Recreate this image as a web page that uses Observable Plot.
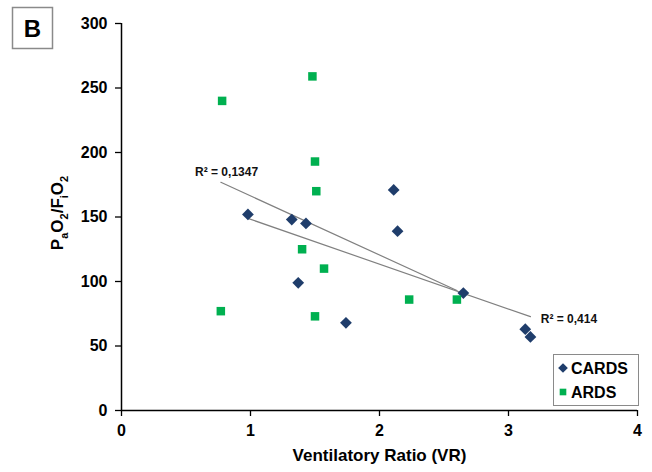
<!DOCTYPE html>
<html>
<head>
<meta charset="utf-8">
<script src="https://cdn.jsdelivr.net/npm/d3@7"></script>
<script src="https://cdn.jsdelivr.net/npm/@observablehq/plot@0.6"></script>
<style>
  html, body { margin: 0; padding: 0; background: #fff; }
  #chart { position: relative; width: 652px; height: 472px; }
</style>
</head>
<body>
<div id="chart"></div>
<script>
// Data
const cardsVR = [0.98, 1.32, 1.43, 2.11, 2.14, 1.37, 1.74, 2.65, 3.13, 3.17];
const cardsPF = [152, 148, 145, 171, 139, 99, 68, 91, 63, 57];
const ardsVR = [1.48, 0.78, 1.50, 1.51, 1.40, 1.57, 0.77, 1.50, 2.23, 2.60];
const ardsPF = [259, 240, 193, 170, 125, 110, 77, 73, 86, 86];
const xTicks = [0, 1, 2, 3, 4];
const yTicks = [0, 50, 100, 150, 200, 250, 300];
const seriesNames = ["CARDS", "ARDS"];
const r2Labels = [
  {x: 0.57, y: 184.5, text: "R² = 0,1347"},
  {x: 3.25, y: 70.5, text: "R² = 0,414"}
];
const panelLabel = "B";

const cards = cardsVR.map((x, i) => ({x, y: cardsPF[i]}));
const ards = ardsVR.map((x, i) => ({x, y: ardsPF[i]}));

const navy = "#1f3d6b";
const green = "#00b050";
const font = "'Liberation Sans', Arial, sans-serif";

const chart = Plot.plot({
  width: 652,
  height: 472,
  marginLeft: 121,
  marginRight: 15,
  marginTop: 23,
  marginBottom: 62,
  style: {fontFamily: font, fontSize: "16px", fontWeight: "bold", color: "#000", background: "#fff", overflow: "visible"},
  x: {domain: [0, 4]},
  y: {domain: [0, 300]},
  marks: [
    Plot.axisX({ticks: xTicks, tickSize: 6, tickPadding: 8, tickFormat: d => String(d), label: "Ventilatory Ratio (VR)", labelAnchor: "center", labelArrow: "none", labelOffset: 50, fontSize: 16, fontWeight: "bold", strokeWidth: 1.3}),
    Plot.axisY({ticks: yTicks, tickSize: 6, tickPadding: 8, tickFormat: d => String(d), label: null, fontSize: 16, fontWeight: "bold", strokeWidth: 1.3}),
    Plot.ruleX([0], {stroke: "#000", strokeWidth: 1.5, y1: 0, y2: 300}),
    Plot.ruleY([0], {stroke: "#000", strokeWidth: 1.5, x1: 0, x2: 4}),
    Plot.linearRegressionY(ards, {x: "x", y: "y", ci: 0, stroke: "#808080", strokeWidth: 1.2}),
    Plot.linearRegressionY(cards, {x: "x", y: "y", ci: 0, stroke: "#808080", strokeWidth: 1.2}),
    Plot.dot(cards, {x: "x", y: "y", symbol: "diamond2", r: 5.3, fill: navy, stroke: "none"}),
    Plot.dot(ards, {x: "x", y: "y", symbol: "square", r: 4.8, fill: green, stroke: "none"}),
    Plot.text(r2Labels, {x: "x", y: "y", text: "text", textAnchor: "start", fontSize: 12, fontWeight: "bold", fill: "#111"})
  ]
});

document.getElementById("chart").appendChild(chart);

const svg = d3.select(chart);
// x-axis title font size
svg.selectAll("[aria-label='x-axis label'] text").style("font-size", "17px");

// y axis title P_aO_2/F_iO_2
const yl = svg.append("text")
  .attr("transform", "translate(63,213) rotate(-90)")
  .attr("text-anchor", "middle")
  .style("font-family", font)
  .style("font-weight", "bold")
  .style("font-size", "17px")
  .attr("fill", "#000");
const parts = [["P", false], ["a", true], ["O", false], ["2", true], ["/F", false], ["i", true], ["O", false], ["2", true]];
let shifted = false;
for (const [t, sub] of parts) {
  const ts = yl.append("tspan").text(t);
  if (sub && !shifted) { ts.attr("dy", 5).style("font-size", "11px"); shifted = true; }
  else if (sub) { ts.style("font-size", "11px"); }
  else if (!sub && shifted) { ts.attr("dy", -5); shifted = false; }
}

// Panel label box
svg.append("rect").attr("x", 12.5).attr("y", 7.5).attr("width", 40).attr("height", 41)
  .attr("fill", "#fff").attr("stroke", "#8a8a8a").attr("stroke-width", 1.5);
svg.append("text").attr("x", 32.5).attr("y", 37).attr("text-anchor", "middle")
  .style("font-family", font).style("font-weight", "bold").style("font-size", "24px")
  .attr("fill", "#000").text(panelLabel);

// Legend
const lg = svg.append("g");
lg.append("rect").attr("x", 553.5).attr("y", 354.5).attr("width", 85).attr("height", 51)
  .attr("fill", "#fff").attr("stroke", "#8a8a8a").attr("stroke-width", 1);
const legendItems = [
  {name: seriesNames[0], color: navy, sym: d3.symbolDiamond2, size: 60, y: 368},
  {name: seriesNames[1], color: green, sym: d3.symbolSquare, size: 44, y: 392}
];
for (const it of legendItems) {
  lg.append("path").attr("d", d3.symbol(it.sym, it.size)()).attr("transform", `translate(563,${it.y})`).attr("fill", it.color);
  lg.append("text").attr("x", 571).attr("y", it.y + 6).attr("text-anchor", "start")
    .style("font-family", font).style("font-weight", "bold").style("font-size", "16px")
    .attr("fill", "#000").text(it.name);
}
</script>
</body>
</html>
